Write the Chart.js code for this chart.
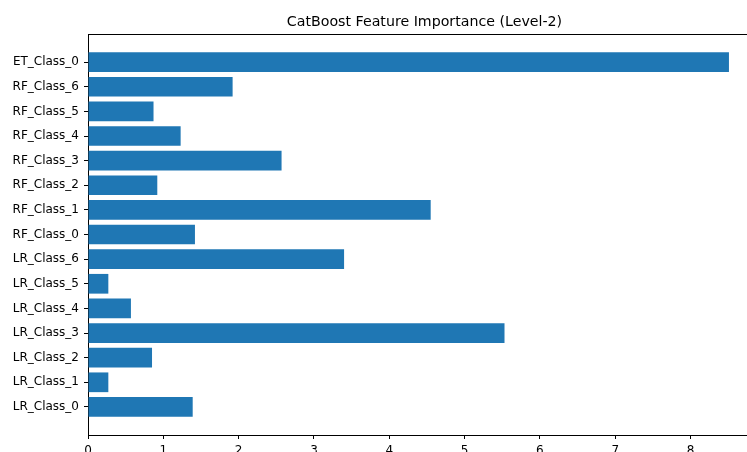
<!DOCTYPE html>
<html>
<head>
<meta charset="utf-8">
<script src="https://cdn.jsdelivr.net/npm/chart.js@4.4.1/dist/chart.umd.min.js"></script>
<style>
  html, body { margin: 0; padding: 0; background: #fff; overflow: hidden; }
  #wrap { width: 780px; height: 452px; }
</style>
</head>
<body>
<div id="wrap"><canvas id="myChart" width="780" height="452"></canvas></div>
<script>
// features, bottom to top (matplotlib barh order)
const features = [
  'LR_Class_0', 'LR_Class_1', 'LR_Class_2', 'LR_Class_3', 'LR_Class_4',
  'LR_Class_5', 'LR_Class_6', 'RF_Class_0', 'RF_Class_1', 'RF_Class_2',
  'RF_Class_3', 'RF_Class_4', 'RF_Class_5', 'RF_Class_6', 'ET_Class_0'
];
const importance = [
  1.39, 0.27, 0.85, 5.53, 0.57,
  0.27, 3.40, 1.42, 4.55, 0.92,
  2.57, 1.23, 0.87, 1.92, 8.51
];
const xTicks = [0, 1, 2, 3, 4, 5, 6, 7, 8];

const FONT = 'DejaVu Sans';
const xMax = Math.max(...importance) * 1.05;
const yMin = -0.4 - 0.05 * (features.length - 1 + 0.8);
const yMax = features.length - 1 + 0.4 + 0.05 * (features.length - 1 + 0.8);

// center the title over the plot like matplotlib does
const titleOverAxes = {
  id: 'titleOverAxes',
  afterLayout(chart) {
    if (chart.titleBlock) {
      chart.titleBlock.left = chart.chartArea.left;
      chart.titleBlock.right = chart.chartArea.right;
    }
  }
};

let chart = new Chart(document.getElementById('myChart'), {
  type: 'bar',
  data: {
    datasets: [{
      label: 'Importance',
      data: importance.map((v, i) => ({ x: v, y: i })),
      backgroundColor: '#1f77b4',
      borderWidth: 0,
      categoryPercentage: 0.8,
      barPercentage: 1.0
    }]
  },
  plugins: [titleOverAxes],
  options: {
    indexAxis: 'y',
    responsive: false,
    animation: false,
    layout: { padding: { left: 0, right: 19, top: 0, bottom: 0 } },
    plugins: {
      legend: { display: false },
      tooltip: { enabled: false },
      title: {
        display: true,
        text: 'CatBoost Feature Importance (Level-2)',
        color: '#000',
        font: { family: FONT, size: 14.2, weight: 'normal' },
        padding: { top: 14, bottom: 3 }
      }
    },
    scales: {
      x: {
        type: 'linear',
        position: 'bottom',
        min: 0,
        max: xMax,
        afterBuildTicks: s => { s.ticks = xTicks.map(v => ({ value: v })); },
        afterFit: s => { s.height = 17; },
        ticks: {
          color: '#000',
          font: { family: FONT, size: 12 },
          padding: 5,
          maxRotation: 0
        },
        grid: {
          drawOnChartArea: false,
          drawTicks: true,
          tickLength: 4,
          color: '#000'
        },
        border: { display: true, color: '#000', width: 1 }
      },
      xTop: {
        type: 'linear',
        position: 'top',
        min: 0,
        max: xMax,
        afterFit: s => { s.height = 0; },
        ticks: { display: false },
        grid: { drawOnChartArea: false, drawTicks: false },
        border: { display: true, color: '#000', width: 1 }
      },
      y: {
        type: 'linear',
        offset: false,
        min: yMin,
        max: yMax,
        afterBuildTicks: s => { s.ticks = features.map((_, i) => ({ value: i })); },
        afterFit: s => { s.width = 88; },
        ticks: {
          color: '#000',
          font: { family: FONT, size: 12 },
          padding: 5,
          callback: v => features[v]
        },
        grid: {
          offset: false,
          drawOnChartArea: false,
          drawTicks: true,
          tickLength: 4,
          color: '#000'
        },
        border: { display: true, color: '#000', width: 1 }
      }
    }
  }
});
</script>
</body>
</html>
